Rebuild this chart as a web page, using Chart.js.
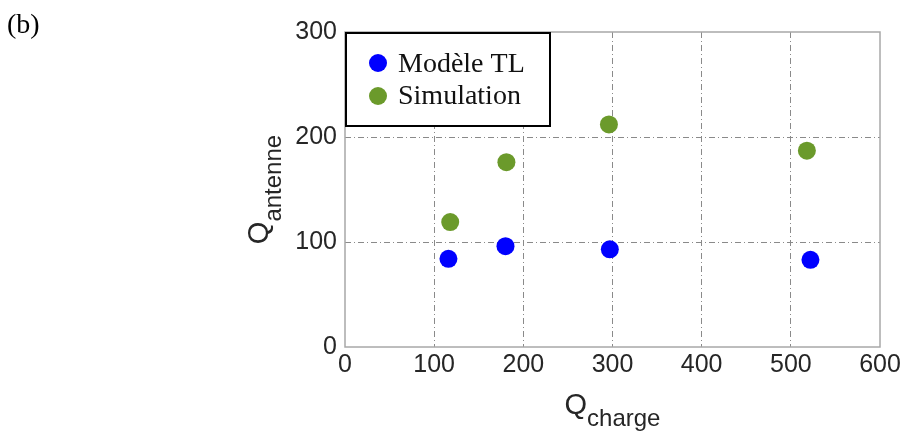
<!DOCTYPE html>
<html>
<head>
<meta charset="utf-8">
<script src="https://cdn.jsdelivr.net/npm/chart.js@4/dist/chart.umd.min.js"></script>
<style>
  html, body { margin: 0; padding: 0; background: #fff; }
  #wrap { width: 905px; height: 433px; position: relative; }
</style>
</head>
<body>
<div id="wrap"><canvas id="c" width="905" height="433"></canvas></div>
<script>
// ---- data ----
const modelLabel = "Modèle TL";
const simLabel = "Simulation";
const modelQcharge = [116, 180, 297, 522];
const modelQantenne = [84, 96, 93, 83];
const simQcharge = [118, 181, 296, 518];
const simQantenne = [119, 176, 212, 187];
const xTicks = [0, 100, 200, 300, 400, 500, 600];
const yTicks = [0, 100, 200, 300];
const panelLabel = "(b)";
const xTitleMain = "Q", xTitleSub = "charge";
const yTitleMain = "Q", yTitleSub = "antenne";

const blue = "#0000ff";
const green = "#6b9a2b";

const toPoints = (xs, ys) => xs.map((x, i) => ({ x: x, y: ys[i] }));

const overlay = {
  id: "overlay",
  beforeDatasetsDraw(chart) {
    const { ctx, chartArea: a } = chart;
    ctx.save();
    ctx.strokeStyle = "#a8a8a8";
    ctx.lineWidth = 1.5;
    ctx.strokeRect(a.left, a.top, a.right - a.left, a.bottom - a.top);
    ctx.restore();
  },
  afterDraw(chart) {
    const { ctx, chartArea: a } = chart;
    ctx.save();
    // panel label
    ctx.fillStyle = "#000";
    ctx.font = "28px 'Liberation Serif', 'Times New Roman', serif";
    ctx.textBaseline = "alphabetic";
    ctx.textAlign = "left";
    ctx.fillText(panelLabel, 7, 33);

    // x title
    const mainFont = "29px 'Liberation Sans', Arial, sans-serif";
    const subFont = "24px 'Liberation Sans', Arial, sans-serif";
    ctx.fillStyle = "#262626";
    ctx.font = mainFont;
    const wQx = ctx.measureText(xTitleMain).width;
    ctx.font = subFont;
    const wSx = ctx.measureText(xTitleSub).width;
    const xc = (a.left + a.right) / 2;
    let x0 = xc - (wQx + wSx) / 2;
    ctx.font = mainFont;
    ctx.fillText(xTitleMain, x0, 414);
    ctx.font = subFont;
    ctx.fillText(xTitleSub, x0 + wQx, 426);

    // y title (rotated)
    ctx.font = mainFont;
    const wQy = ctx.measureText(yTitleMain).width;
    ctx.font = subFont;
    const wSy = ctx.measureText(yTitleSub).width;
    ctx.save();
    ctx.translate(268, (a.top + a.bottom) / 2);
    ctx.rotate(-Math.PI / 2);
    const y0 = -(wQy + wSy) / 2;
    ctx.font = mainFont;
    ctx.fillText(yTitleMain, y0, 0);
    ctx.font = subFont;
    ctx.fillText(yTitleSub, y0 + wQy, 13);
    ctx.restore();

    // legend box
    ctx.fillStyle = "#fff";
    ctx.fillRect(346, 33, 204, 93);
    ctx.strokeStyle = "#000";
    ctx.lineWidth = 2;
    ctx.strokeRect(346, 33, 204, 93);
    const items = [
      { label: chart.data.datasets[0].label, color: chart.data.datasets[0].backgroundColor, cy: 63, base: 72 },
      { label: chart.data.datasets[1].label, color: chart.data.datasets[1].backgroundColor, cy: 96, base: 104 }
    ];
    ctx.font = "28px 'Liberation Serif', 'Times New Roman', serif";
    items.forEach(it => {
      ctx.beginPath();
      ctx.fillStyle = it.color;
      ctx.arc(378, it.cy, 9, 0, Math.PI * 2);
      ctx.fill();
      ctx.fillStyle = "#111";
      ctx.fillText(it.label, 398, it.base);
    });
    ctx.restore();
  }
};

const gridColor = (max) => (ctx) => {
  const v = ctx.tick ? ctx.tick.value : null;
  if (v === 0 || v === max) return "rgba(0,0,0,0)";
  return "#8a8a8a";
};

new Chart(document.getElementById("c"), {
  type: "scatter",
  data: {
    datasets: [
      { label: modelLabel, data: toPoints(modelQcharge, modelQantenne), backgroundColor: blue, borderWidth: 0, pointRadius: 9, pointHoverRadius: 9 },
      { label: simLabel, data: toPoints(simQcharge, simQantenne), backgroundColor: green, borderWidth: 0, pointRadius: 9, pointHoverRadius: 9 }
    ]
  },
  options: {
    responsive: false,
    animation: false,
    events: [],
    layout: { padding: { left: 0, right: 25, top: 32, bottom: 0 } },
    plugins: { legend: { display: false }, tooltip: { enabled: false } },
    scales: {
      x: {
        type: "linear",
        min: xTicks[0],
        max: xTicks[xTicks.length - 1],
        afterBuildTicks: (s) => { s.ticks = xTicks.map(v => ({ value: v })); },
        afterFit: (s) => { s.height = 86; },
        ticks: { color: "#262626", font: { family: "'Liberation Sans', Arial, sans-serif", size: 25 }, padding: 3, maxRotation: 0 },
        grid: { color: gridColor(600), lineWidth: 1, drawTicks: false },
        border: { display: false, dash: [6, 3, 1, 3] }
      },
      y: {
        type: "linear",
        min: yTicks[0],
        max: yTicks[yTicks.length - 1],
        afterBuildTicks: (s) => { s.ticks = yTicks.map(v => ({ value: v })); },
        afterFit: (s) => { s.width = 345; },
        ticks: { color: "#262626", font: { family: "'Liberation Sans', Arial, sans-serif", size: 25 }, padding: 8 },
        grid: { color: gridColor(300), lineWidth: 1, drawTicks: false },
        border: { display: false, dash: [6, 3, 1, 3] }
      }
    }
  },
  plugins: [overlay]
});
</script>
</body>
</html>
